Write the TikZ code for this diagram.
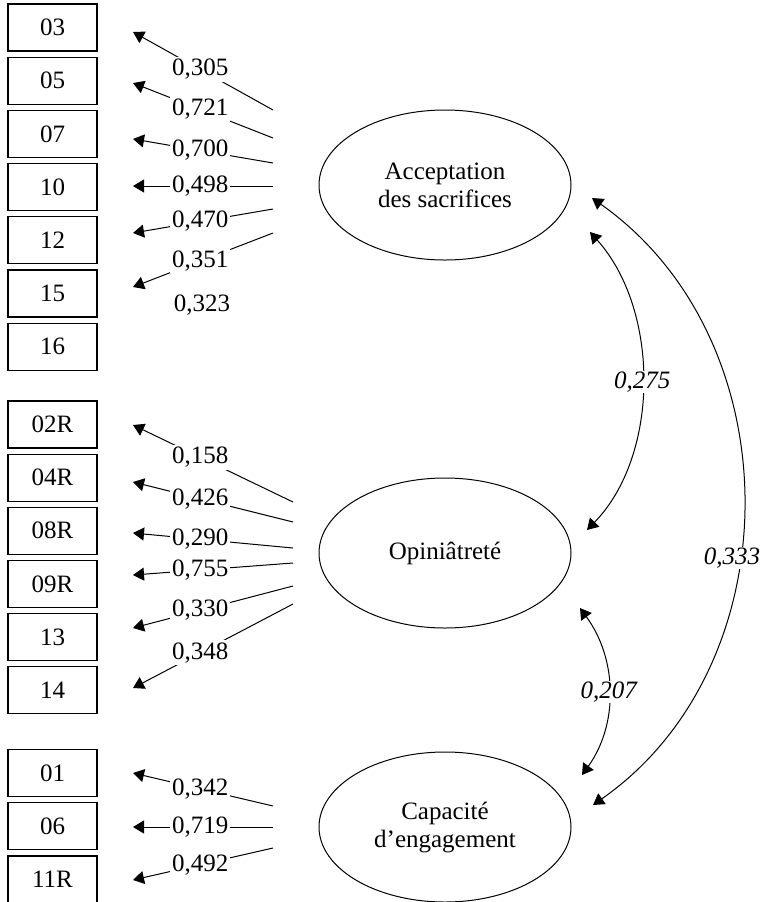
\documentclass[tikz,border=0pt]{standalone}
\usepackage{fontspec}
\setmainfont{Liberation Serif}
\usetikzlibrary{shapes.geometric,arrows.meta}

\tikzset{
    every node/.style={font=\fontsize{12.5}{14}\selectfont},
    item/.style={draw,line width=0.6pt,minimum width=44.5pt,minimum height=23.5pt,inner sep=0pt},
    latent/.style={draw,ellipse,line width=0.5pt,minimum width=126pt,minimum height=75pt,inner sep=0pt,align=center},
    load/.style={line width=0.5pt,-{Triangle[length=5.5pt,width=6.5pt]}},
    cov/.style={line width=0.5pt,{Triangle[length=5.5pt,width=6.5pt]}-{Triangle[length=5.5pt,width=6.5pt]}},
    lbl/.style={fill=white,inner sep=1pt},
    clbl/.style={fill=white,inner sep=0.5pt,font=\fontsize{12.5}{14}\selectfont\itshape}
}

\begin{document}
\begin{tikzpicture}[x=0.5pt,y=-0.5pt]
    \useasboundingbox (0,0) rectangle (763,902);

    % items
    \node[item] (b03) at (52.5,27.5) {03};
    \node[item] (b05) at (52.5,80.7) {05};
    \node[item] (b07) at (52.5,133.9) {07};
    \node[item] (b10) at (52.5,187.1) {10};
    \node[item] (b12) at (52.5,240.3) {12};
    \node[item] (b15) at (52.5,293.5) {15};
    \node[item] (b16) at (52.5,346.7) {16};

    \node[item] (b02R) at (52.5,424.5) {02R};
    \node[item] (b04R) at (52.5,477.6) {04R};
    \node[item] (b08R) at (52.5,530.7) {08R};
    \node[item] (b09R) at (52.5,583.8) {09R};
    \node[item] (b13) at (52.5,636.9) {13};
    \node[item] (b14) at (52.5,690) {14};

    \node[item] (b01) at (52.5,773) {01};
    \node[item] (b06) at (52.5,826.2) {06};
    \node[item] (b11R) at (52.5,879.4) {11R};

    % factors
    \node[latent] (acc) at (445,185) {Acceptation\\des sacrifices};
    \node[latent] (opi) at (445,553) {Opiniâtreté};
    \node[latent] (cap) at (445,827) {Capacité\\d’engagement};

    % loadings, first factor
    \coordinate (s03) at (273,110);
    \coordinate (s05) at (273,138);
    \coordinate (s07) at (273,163);
    \coordinate (s10) at (273,186);
    \coordinate (s12) at (273,209);
    \coordinate (s15) at (273,233);
    \coordinate (t03) at (133,32);
    \coordinate (t05) at (133,83);
    \coordinate (t07) at (133,139);
    \coordinate (t10) at (133,186);
    \coordinate (t12) at (133,233);
    \coordinate (t15) at (133,287);

    \draw[load] (s03) -- node[lbl,pos=0.52]{0,305} (t03);
    \draw[load] (s05) -- node[lbl,pos=0.52]{0,721} (t05);
    \draw[load] (s07) -- node[lbl,pos=0.52]{0,700} (t07);
    \draw[load] (s10) -- node[lbl,pos=0.52]{0,498} (t10);
    \draw[load] (s12) -- node[lbl,pos=0.52]{0,470} (t12);
    \draw[load] (s15) -- node[lbl,pos=0.52]{0,351} (t15);
    \node[lbl] (l16) at (202,305) {0,323};

    % loadings, second factor
    \coordinate (s02R) at (293,502);
    \coordinate (s04R) at (293,522);
    \coordinate (s08R) at (293,548);
    \coordinate (s09R) at (293,563);
    \coordinate (s13) at (293,586);
    \coordinate (s14) at (293,604);
    \coordinate (t02R) at (133,425);
    \coordinate (t04R) at (133,482);
    \coordinate (t08R) at (133,533);
    \coordinate (t09R) at (133,575);
    \coordinate (t13) at (133,628);
    \coordinate (t14) at (133,688);

    \draw[load] (s02R) -- node[lbl,pos=0.58]{0,158} (t02R);
    \draw[load] (s04R) -- node[lbl,pos=0.58]{0,426} (t04R);
    \draw[load] (s08R) -- node[lbl,pos=0.58]{0,290} (t08R);
    \draw[load] (s09R) -- node[lbl,pos=0.58]{0,755} (t09R);
    \draw[load] (s13) -- node[lbl,pos=0.58]{0,330} (t13);
    \draw[load] (s14) -- node[lbl,pos=0.58]{0,348} (t14);

    % loadings, third factor
    \coordinate (s01) at (273,806);
    \coordinate (s06) at (273,827);
    \coordinate (s11R) at (273,848);
    \coordinate (t01) at (133,773);
    \coordinate (t06) at (133,827);
    \coordinate (t11R) at (133,880);

    \draw[load] (s01) -- node[lbl,pos=0.52]{0,342} (t01);
    \draw[load] (s06) -- node[lbl,pos=0.52]{0,719} (t06);
    \draw[load] (s11R) -- node[lbl,pos=0.52]{0,492} (t11R);

    % correlations
    \coordinate (ca1) at (590,232);
    \coordinate (co1) at (587,530);
    \coordinate (co2) at (580,608);
    \coordinate (cc1) at (582,775);
    \coordinate (ca2) at (592,198);
    \coordinate (cc2) at (593,805);

    \draw[cov] (ca1) .. controls (660,310) and (660,455) .. node[clbl]{0,275} (co1);
    \draw[cov] (co2) .. controls (618,660) and (618,725) .. node[clbl]{0,207} (cc1);
    \draw[cov] (ca2) .. controls (793,340) and (793,665) .. node[clbl,pos=0.58,xshift=-3.5pt]{0,333} (cc2);

\end{tikzpicture}
\end{document}
